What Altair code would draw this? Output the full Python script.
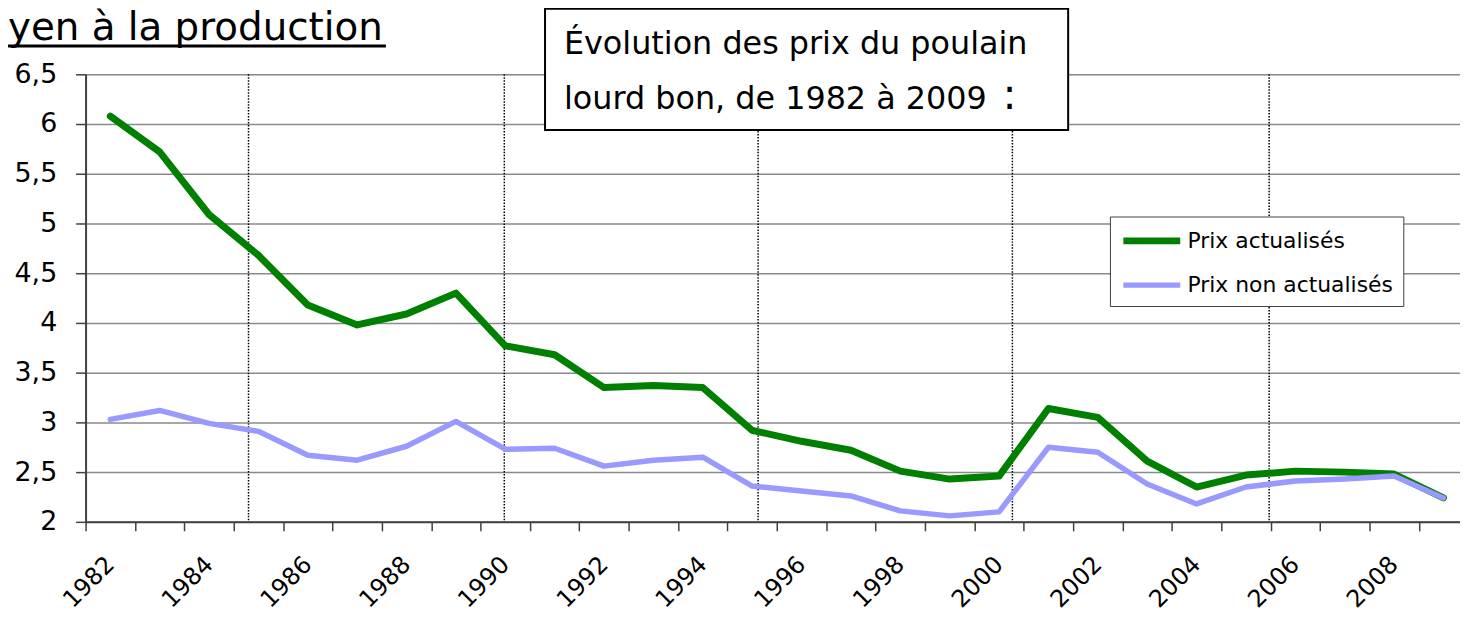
import altair as alt
import pandas as pd

# ---- data ----
annees = list(range(1982, 2010))
prix_actualises = [6.08, 5.72, 5.09, 4.68, 4.18, 3.98, 4.09, 4.30, 3.77, 3.68,
                   3.35, 3.37, 3.35, 2.92, 2.81, 2.72, 2.51, 2.43, 2.46, 3.14,
                   3.05, 2.61, 2.35, 2.47, 2.51, 2.50, 2.48, 2.24]
prix_non_actualises = [3.03, 3.12, 2.99, 2.91, 2.67, 2.62, 2.76, 3.01, 2.73, 2.74,
                       2.56, 2.62, 2.65, 2.36, 2.31, 2.26, 2.11, 2.06, 2.10, 2.75,
                       2.70, 2.38, 2.18, 2.35, 2.41, 2.43, 2.46, 2.24]
series = ["Prix actualisés", "Prix non actualisés"]
couleurs = ["#008000", "#9999FF"]
separateurs = [1984.8, 1989.98, 1995.12, 2000.27, 2005.47]
y_ticks = [2, 2.5, 3, 3.5, 4, 4.5, 5, 5.5, 6, 6.5]
x_labels = list(range(1982, 2010, 2))
x_bornes = [1981.5 + k for k in range(28)]
titre = "yen à la production"
encadre = "Évolution des prix du poulain\nlourd bon, de 1982 à 2009"
deux_points = ":"

df = pd.DataFrame({
    "annee": annees * 2,
    "prix": prix_actualises + prix_non_actualises,
    "serie": [series[0]] * len(annees) + [series[1]] * len(annees),
})
sep_df = pd.DataFrame({"sep": separateurs})

FONT = "DejaVu Sans"
x_scale = alt.Scale(domain=[1981.5, 2009.335], nice=False, zero=False)
y_scale = alt.Scale(domain=[2, 6.5], nice=False, zero=False)

x_axis = alt.Axis(
    values=sorted(x_bornes + x_labels), title=None, grid=False,
    domainColor="#404040", domainWidth=2,
    tickColor="#404040", tickWidth=1.5, tickSize=9,
    tickOpacity={"condition": {"test": "datum.value % 1 != 0", "value": 1}, "value": 0},
    labelExpr="datum.value % 2 == 0 ? format(datum.value, 'd') : ''",
    labelAngle=-45, labelAlign="right", labelBaseline="middle",
    labelPadding=30, labelFontSize=24, labelFont=FONT, labelColor="black",
    labelOverlap=False, labelFlush=False, labelBound=False,
)
y_axis = alt.Axis(
    values=y_ticks, title=None, grid=True, gridColor="#8a8a8a", gridWidth=1.5,
    domainColor="#404040", domainWidth=2,
    tickColor="#404040", tickWidth=1.5, tickSize=10,
    labelExpr="replace(format(datum.value, '~g'), '.', ',')",
    labelPadding=19, labelFontSize=27, labelFont=FONT, labelColor="black",
)

rules = alt.Chart(sep_df).mark_rule(color="black", strokeWidth=1.5, strokeDash=[1.5, 1.5]).encode(
    x=alt.X("sep:Q", scale=x_scale, axis=x_axis),
    y=alt.Y(datum=6.5, scale=y_scale, axis=y_axis),
    y2=alt.Y2(datum=2),
)

lines = alt.Chart(df).mark_line(strokeCap="round", strokeJoin="round").encode(
    x=alt.X("annee:Q", scale=x_scale, axis=x_axis),
    y=alt.Y("prix:Q", scale=y_scale, axis=y_axis),
    color=alt.Color("serie:N", scale=alt.Scale(domain=series, range=couleurs),
                    legend=alt.Legend(
                        title=None, orient="none", legendX=1030, legendY=143,
                        symbolType="M-1,0H4.2", symbolSize=484, symbolStrokeWidth=5,
                        labelFontSize=22, labelFont=FONT, labelColor="black",
                        labelLimit=0, labelOffset=39, rowPadding=16, padding=10,
                        strokeColor="#404040", fillColor="white")),
    strokeWidth=alt.StrokeWidth("serie:N", scale=alt.Scale(domain=series, range=[7, 5.5]),
                                legend=None),
)

one = pd.DataFrame({"t": [titre], "e": [encadre], "c": [deux_points]})

box = alt.Chart(one).mark_rect(fill="white", stroke="black", strokeWidth=2).encode(
    x=alt.value(462), x2=alt.value(988), y=alt.value(-66), y2=alt.value(56))
box_text = alt.Chart(one).mark_text(
    align="left", baseline="alphabetic", fontSize=32, font=FONT, color="black",
    lineBreak="\n", lineHeight=55).encode(
    text="e:N", x=alt.value(481), y=alt.value(-20))
colon = alt.Chart(one).mark_text(
    align="left", baseline="alphabetic", fontSize=42, font=FONT, color="black").encode(
    text="c:N", x=alt.value(922), y=alt.value(35))
title = alt.Chart(one).mark_text(
    align="left", baseline="alphabetic", fontSize=39, font=FONT, color="black").encode(
    text="t:N", x=alt.value(-78), y=alt.value(-34))
underline = alt.Chart(one).mark_rule(color="black", strokeWidth=3).encode(
    x=alt.value(-78), x2=alt.value(302), y=alt.value(-28.5))

chart = alt.layer(rules, lines, box, box_text, colon, title, underline).properties(
    width=1382, height=450,
    padding={"left": 78, "top": 65, "right": 0, "bottom": 90},
    autosize=alt.AutoSizeParams(type="none"),
).configure_view(stroke=None).configure(font=FONT)

chart.save("out.html", embed_options={"renderer": "svg", "actions": False})
